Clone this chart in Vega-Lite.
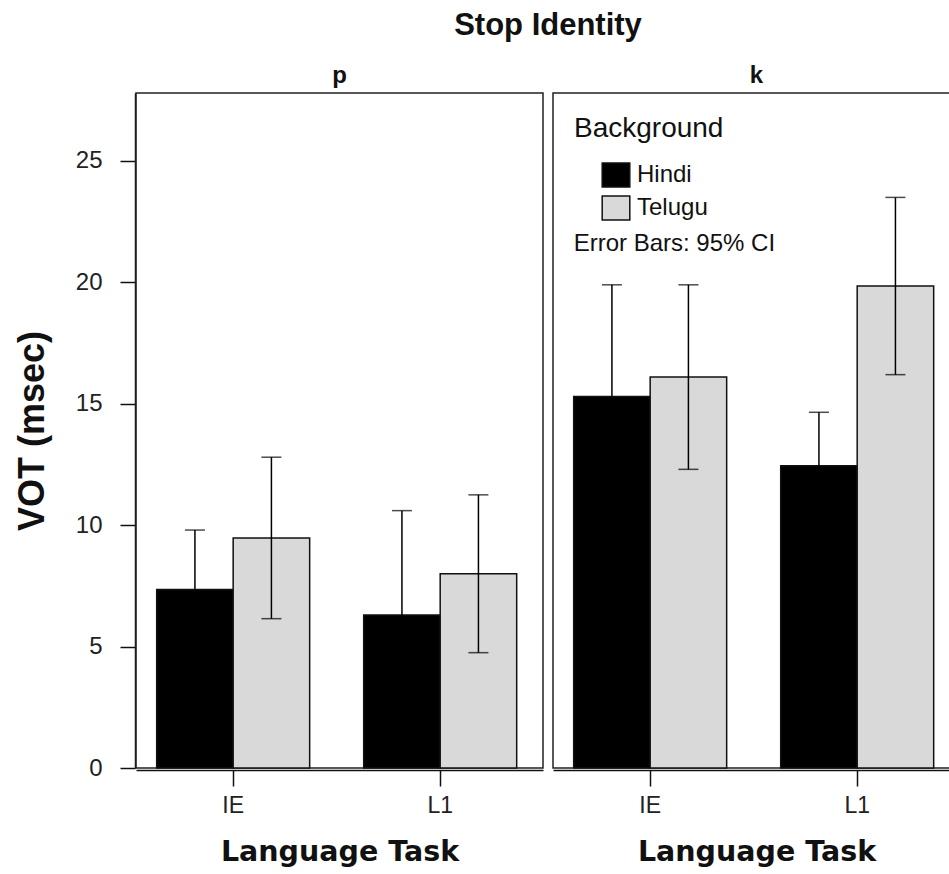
{
  "$schema": "https://vega.github.io/schema/vega-lite/v6.json",
  "padding": {"left": 14, "top": 10, "right": 0, "bottom": 4},
  "background": "white",
  "data": {
    "values": [
      {"stop": "p", "task": "IE", "background": "Hindi", "mean": 7.35, "lo": 4.9, "hi": 9.8},
      {"stop": "p", "task": "IE", "background": "Telugu", "mean": 9.47, "lo": 6.15, "hi": 12.8},
      {"stop": "p", "task": "L1", "background": "Hindi", "mean": 6.3, "lo": 2.0, "hi": 10.6},
      {"stop": "p", "task": "L1", "background": "Telugu", "mean": 8.0, "lo": 4.75, "hi": 11.25},
      {"stop": "k", "task": "IE", "background": "Hindi", "mean": 15.3, "lo": 10.7, "hi": 19.9},
      {"stop": "k", "task": "IE", "background": "Telugu", "mean": 16.1, "lo": 12.3, "hi": 19.9},
      {"stop": "k", "task": "L1", "background": "Hindi", "mean": 12.45, "lo": 10.25, "hi": 14.65},
      {"stop": "k", "task": "L1", "background": "Telugu", "mean": 19.85, "lo": 16.2, "hi": 23.5}
    ]
  },
  "facet": {
    "column": {
      "field": "stop",
      "type": "nominal",
      "sort": ["p", "k"],
      "title": "Stop Identity",
      "header": {
        "titleFont": "Liberation Sans",
        "titleFontSize": 31,
        "titleFontWeight": "bold",
        "titleColor": "#111",
        "titlePadding": 12,
        "labelFont": "Liberation Sans",
        "labelFontSize": 24,
        "labelFontWeight": "bold",
        "labelColor": "#111",
        "labelPadding": 4
      }
    }
  },
  "spacing": 8,
  "spec": {
    "width": 407,
    "height": 675,
    "layer": [
      {
        "mark": {"type": "bar", "stroke": "#111", "strokeWidth": 1.5},
        "encoding": {
          "x": {
            "field": "task",
            "type": "nominal",
            "scale": {"paddingInner": 0.261, "paddingOuter": 0.1135, "align": 0.44},
            "axis": {"title": "Language Task"}
          },
          "xOffset": {"field": "background", "type": "nominal"},
          "y": {
            "field": "mean",
            "type": "quantitative",
            "scale": {"domain": [0, 27.8], "nice": false},
            "axis": {"title": "VOT (msec)", "values": [0, 5, 10, 15, 20, 25]}
          },
          "fill": {
            "field": "background",
            "type": "nominal",
            "scale": {"domain": ["Hindi", "Telugu"], "range": ["#000000", "#d9d9d9"]},
            "legend": {
              "title": "Background",
              "orient": "none",
              "legendX": 438,
              "legendY": 22,
              "titleFont": "Liberation Sans",
              "titleFontSize": 28,
              "titleFontWeight": "normal",
              "titleColor": "#111",
              "titlePadding": 19,
              "labelFont": "Liberation Sans",
              "labelFontSize": 24,
              "labelColor": "#111",
              "labelOffset": 8,
              "symbolType": "M-1.15,-1H1.15V1H-1.15Z",
              "symbolSize": 576,
              "symbolStrokeColor": "#111",
              "symbolStrokeWidth": 1.5,
              "symbolOffset": 29,
              "rowPadding": 3
            }
          }
        }
      },
      {
        "mark": {"type": "rule", "color": "#000", "strokeWidth": 1.5},
        "encoding": {
          "x": {"field": "task", "type": "nominal"},
          "xOffset": {"field": "background", "type": "nominal"},
          "y": {"field": "lo", "type": "quantitative"},
          "y2": {"field": "hi"}
        }
      },
      {
        "mark": {"type": "tick", "color": "#000", "thickness": 1.5, "size": 20, "orient": "horizontal"},
        "encoding": {
          "x": {"field": "task", "type": "nominal"},
          "xOffset": {"field": "background", "type": "nominal"},
          "y": {"field": "hi", "type": "quantitative"}
        }
      },
      {
        "mark": {"type": "tick", "color": "#000", "thickness": 1.5, "size": 20, "orient": "horizontal"},
        "encoding": {
          "x": {"field": "task", "type": "nominal"},
          "xOffset": {"field": "background", "type": "nominal"},
          "y": {"field": "lo", "type": "quantitative"}
        }
      },
      {
        "transform": [{"filter": "datum.stop === 'k' && datum.task === 'IE' && datum.background === 'Hindi'"}],
        "mark": {
          "type": "text",
          "align": "left",
          "baseline": "middle",
          "font": "Liberation Sans",
          "fontSize": 24,
          "color": "#111",
          "text": "Error Bars: 95% CI"
        },
        "encoding": {
          "x": {"field": "task", "type": "nominal", "bandPosition": 0},
          "y": {"datum": 21.6, "type": "quantitative"}
        }
      }
    ]
  },
  "config": {
    "view": {"stroke": "#222", "strokeWidth": 1.5},
    "axisY": {
      "grid": false,
      "labelFont": "Liberation Sans",
      "labelFontSize": 24,
      "labelColor": "#222",
      "labelPadding": 18,
      "tickSize": 15,
      "tickColor": "#111",
      "tickWidth": 1.5,
      "domainColor": "#111",
      "domainWidth": 1.5,
      "titleFont": "Liberation Sans",
      "titleFontSize": 36,
      "titleFontWeight": "bold",
      "titleColor": "#111",
      "titlePadding": 24
    },
    "axisX": {
      "grid": false,
      "labelAngle": 0,
      "labelFont": "Liberation Sans",
      "labelFontSize": 23,
      "labelColor": "#222",
      "labelPadding": 8,
      "tickSize": 16,
      "tickColor": "#111",
      "tickWidth": 1.5,
      "domainColor": "#111",
      "domainWidth": 1.5,
      "titleFont": "DejaVu Sans",
      "titleFontSize": 28.5,
      "titleFontWeight": "bold",
      "titleColor": "#111",
      "titlePadding": 20
    }
  }
}
